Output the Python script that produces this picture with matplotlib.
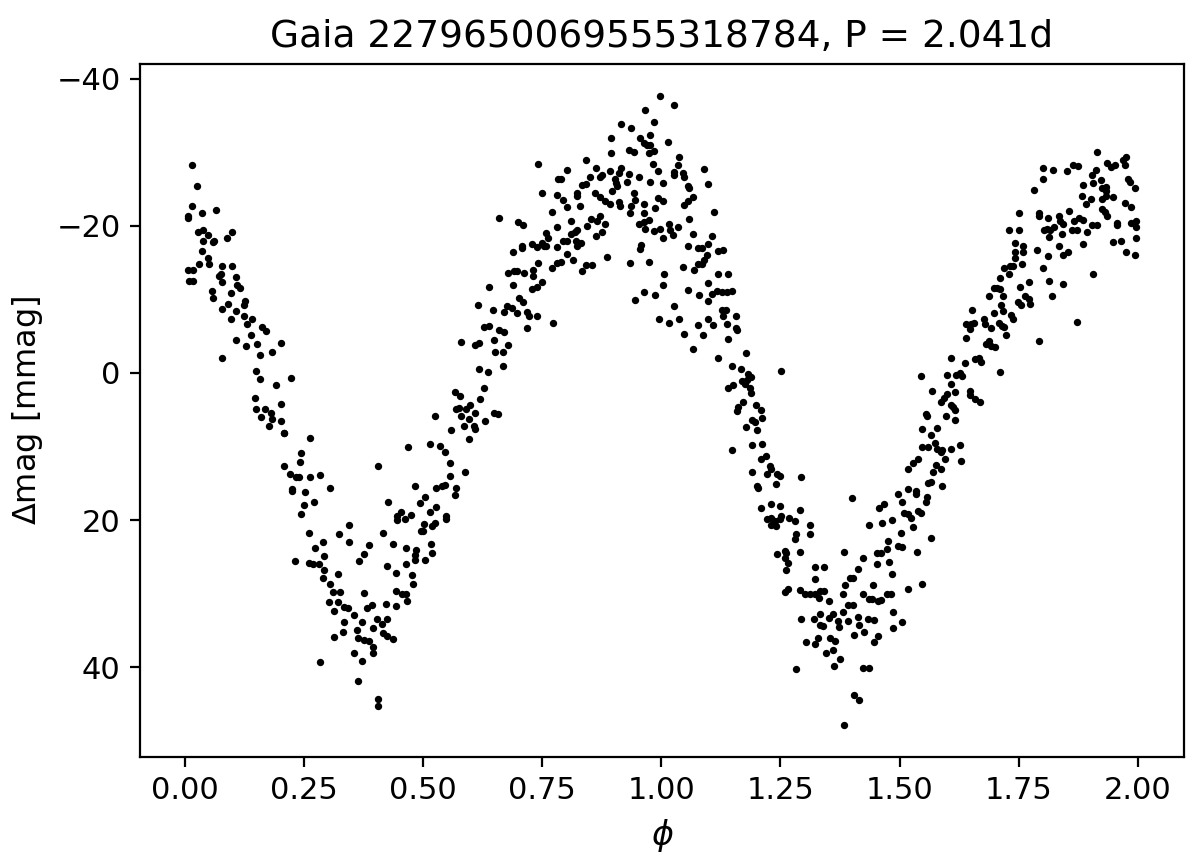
import numpy as np
import matplotlib
matplotlib.use("Agg")
import matplotlib.pyplot as plt

# phase-folded light curve, (phi, delta mag in mmag)
seg_00_25 = [
    (0.015, -28.2), (0.026, -25.4), (0.015, -22.7), (0.006, -21.4), (0.007, -21.0), (0.037, -21.7),
    (0.066, -22.2), (0.028, -19.1), (0.038, -19.5), (0.049, -18.7), (0.038, -18.0), (0.059, -17.8),
    (0.062, -18.0), (0.088, -18.3), (0.098, -19.2), (0.036, -16.6), (0.048, -15.6), (0.029, -14.8),
    (0.050, -14.8), (0.007, -14.0), (0.017, -14.0), (0.008, -12.5), (0.017, -12.5), (0.077, -14.6),
    (0.099, -14.6), (0.071, -13.2), (0.075, -13.4), (0.108, -13.0), (0.077, -12.3), (0.109, -11.9),
    (0.116, -11.6), (0.058, -11.2), (0.059, -10.2), (0.097, -10.9), (0.090, -9.4), (0.079, -8.7),
    (0.127, -9.8), (0.124, -9.2), (0.108, -8.4), (0.097, -7.3), (0.124, -7.8), (0.131, -6.6),
    (0.141, -7.4), (0.162, -6.3), (0.171, -5.7), (0.138, -5.1), (0.108, -4.5), (0.128, -3.7),
    (0.151, -3.9), (0.202, -4.1), (0.182, -2.8), (0.158, -2.4), (0.078, -2.1), (0.150, -0.2),
    (0.158, 0.8), (0.223, 0.7), (0.191, 1.7), (0.148, 3.4), (0.201, 4.2), (0.149, 4.9),
    (0.168, 4.9), (0.181, 5.4), (0.159, 6.0), (0.183, 6.3), (0.201, 6.5), (0.176, 7.2),
    (0.208, 8.1), (0.208, 8.2), (0.208, 12.6),
]

seg_25_50 = [
    (0.263, 8.8), (0.243, 10.9), (0.241, 12.1), (0.220, 13.8), (0.233, 14.2), (0.240, 14.2),
    (0.262, 14.1), (0.284, 13.9), (0.224, 15.8), (0.224, 16.1), (0.252, 16.2), (0.304, 15.7),
    (0.250, 17.9), (0.272, 17.6), (0.243, 19.2), (0.260, 21.8), (0.231, 25.5), (0.273, 23.8),
    (0.291, 23.0), (0.292, 24.9), (0.260, 25.8), (0.269, 25.9), (0.281, 26.0), (0.293, 26.8),
    (0.291, 27.9), (0.304, 28.7), (0.311, 29.8), (0.325, 29.8), (0.322, 27.3), (0.303, 31.1),
    (0.322, 31.2), (0.313, 32.3), (0.334, 31.8), (0.343, 31.9), (0.333, 33.9), (0.332, 35.2),
    (0.313, 35.9), (0.354, 32.9), (0.283, 39.3), (0.324, 21.9), (0.345, 20.6), (0.344, 23.0),
    (0.386, 23.4), (0.376, 24.6), (0.365, 25.5), (0.375, 29.9), (0.383, 32.0), (0.392, 31.6),
    (0.372, 33.8), (0.362, 35.0), (0.364, 36.0), (0.376, 36.3), (0.386, 36.5), (0.394, 34.7),
    (0.404, 33.5), (0.413, 34.1), (0.395, 37.2), (0.395, 38.1), (0.355, 38.1), (0.372, 39.1),
    (0.364, 41.9), (0.406, 44.3), (0.406, 45.3), (0.406, 12.7), (0.416, 21.7), (0.426, 17.6),
    (0.425, 26.2), (0.436, 23.3), (0.443, 27.2), (0.444, 29.7), (0.456, 30.1), (0.465, 30.1),
    (0.467, 31.0), (0.443, 31.7), (0.423, 31.4), (0.425, 33.4), (0.416, 35.4), (0.425, 35.7),
    (0.436, 36.1), (0.446, 20.0), (0.446, 19.5), (0.454, 18.9), (0.463, 19.9), (0.474, 19.3),
    (0.468, 10.1), (0.484, 15.3), (0.494, 17.7), (0.504, 16.9), (0.502, 20.5), (0.495, 21.5),
    (0.499, 21.5), (0.465, 23.8), (0.485, 24.1), (0.484, 24.8), (0.484, 25.4), (0.503, 25.4),
    (0.465, 25.9), (0.477, 27.4), (0.478, 28.7),
]

seg_50_75 = [
    (0.515, 18.9), (0.518, 20.8), (0.526, 20.4), (0.528, 18.2), (0.516, 23.2), (0.518, 24.5),
    (0.548, 19.5), (0.548, 19.9), (0.527, 15.6), (0.539, 15.3), (0.546, 15.2), (0.569, 15.6),
    (0.566, 16.6), (0.556, 14.0), (0.587, 13.5), (0.556, 12.2), (0.546, 10.8), (0.515, 9.6),
    (0.535, 9.9), (0.525, 5.9), (0.558, 7.8), (0.597, 9.0), (0.566, 2.6), (0.578, 3.1),
    (0.569, 4.9), (0.576, 4.7), (0.579, 5.8), (0.590, 4.9), (0.599, 4.4), (0.596, 6.3),
    (0.586, 7.2), (0.607, 7.2), (0.610, 7.6), (0.609, 5.4), (0.620, 3.5), (0.628, 2.1),
    (0.630, 6.5), (0.648, 5.4), (0.658, 5.6), (0.618, -0.6), (0.637, -0.1), (0.667, -0.9),
    (0.579, -4.2), (0.609, -3.8), (0.618, -4.1), (0.627, -6.2), (0.639, -6.4), (0.648, -4.5),
    (0.651, -2.8), (0.667, -2.8), (0.679, -3.8), (0.659, -5.9), (0.669, -5.5), (0.616, -9.3),
    (0.646, -8.6), (0.639, -11.7), (0.670, -8.3), (0.677, -9.1), (0.687, -8.8), (0.698, -8.2),
    (0.719, -6.1), (0.719, -8.3), (0.723, -7.7), (0.740, -7.8), (0.701, -10.2), (0.709, -9.7),
    (0.689, -12.0), (0.679, -13.6), (0.690, -13.9), (0.697, -13.8), (0.711, -13.6), (0.688, -16.5),
    (0.708, -17.0), (0.708, -17.2), (0.728, -17.5), (0.740, -17.1), (0.749, -17.7), (0.753, -17.2),
    (0.731, -14.0), (0.731, -13.2), (0.742, -15.0), (0.728, -11.4), (0.739, -11.7), (0.749, -12.4),
    (0.660, -21.0), (0.700, -20.5), (0.710, -20.1), (0.750, -24.4), (0.741, -28.4),
]

seg_75_100 = [
    (0.759, -19.0), (0.762, -18.4), (0.759, -17.3), (0.770, -21.9), (0.781, -17.1), (0.771, -14.3),
    (0.781, -15.0), (0.790, -15.1), (0.802, -16.2), (0.814, -15.3), (0.793, -17.9), (0.802, -17.9),
    (0.781, -19.9), (0.810, -20.7), (0.811, -18.9), (0.818, -19.2), (0.823, -19.4), (0.820, -18.0),
    (0.823, -17.2), (0.832, -17.6), (0.842, -14.7), (0.854, -14.7), (0.834, -13.9), (0.885, -15.7),
    (0.862, -18.6), (0.875, -19.2), (0.882, -20.3), (0.845, -20.0), (0.852, -20.9), (0.865, -20.6),
    (0.872, -21.3), (0.782, -24.2), (0.793, -23.5), (0.803, -22.6), (0.823, -24.5), (0.823, -24.0),
    (0.830, -22.7), (0.784, -26.3), (0.789, -26.4), (0.802, -27.6), (0.833, -25.6), (0.842, -25.7),
    (0.851, -26.7), (0.842, -29.0), (0.862, -27.8), (0.872, -26.6), (0.875, -26.9), (0.861, -24.5),
    (0.872, -23.9), (0.881, -23.4), (0.892, -23.0), (0.892, -27.4), (0.894, -29.9), (0.894, -31.9),
    (0.915, -33.9), (0.896, -24.7), (0.902, -26.3), (0.904, -25.8), (0.906, -25.4), (0.912, -27.2),
    (0.916, -27.9), (0.927, -26.0), (0.912, -23.3), (0.913, -22.7), (0.933, -27.0), (0.932, -30.3),
    (0.943, -30.0), (0.936, -33.3), (0.935, -21.7), (0.937, -22.7), (0.943, -24.5), (0.944, -23.5),
    (0.953, -26.7), (0.955, -32.0), (0.963, -31.3), (0.970, -31.0), (0.976, -31.0), (0.965, -35.7),
    (0.976, -32.3), (0.984, -34.1), (0.997, -37.7), (0.974, -29.9), (0.985, -30.2), (0.983, -28.4),
    (0.994, -27.5), (0.976, -25.9), (1.004, -25.8), (0.993, -23.8), (1.004, -23.4), (0.964, -22.9),
    (0.963, -21.7), (0.987, -22.4), (0.954, -20.2), (0.963, -20.5), (0.974, -20.8), (0.966, -19.6),
    (0.985, -19.3), (0.997, -19.6), (1.004, -18.3), (0.957, -17.4), (0.956, -16.9), (0.935, -15.0),
    (0.975, -15.1), (1.005, -13.4), (1.004, -12.0), (0.945, -9.9), (0.964, -11.0), (0.986, -10.6),
    (0.996, -7.3), (0.773, -6.8),
]

seg_100_125 = [
    (1.027, -36.4), (1.014, -31.4), (1.038, -29.3), (1.034, -28.3), (1.026, -27.3), (1.026, -26.9),
    (1.046, -27.2), (1.047, -26.7), (1.089, -27.7), (1.056, -25.4), (1.058, -25.2), (1.098, -25.7),
    (1.067, -23.9), (1.055, -23.4), (1.047, -22.8), (1.110, -21.9), (1.059, -20.9), (1.016, -20.3),
    (1.019, -19.5), (1.025, -18.8), (1.036, -19.9), (1.066, -18.9), (1.107, -18.6), (1.056, -17.2),
    (1.076, -17.0), (1.086, -17.0), (1.097, -17.5), (1.119, -16.6), (1.130, -16.7), (1.095, -16.0),
    (1.089, -15.4), (1.077, -14.8), (1.086, -14.8), (1.046, -14.4), (1.069, -14.0), (1.118, -13.5),
    (1.139, -13.4), (1.099, -12.2), (1.057, -11.3), (1.080, -10.6), (1.097, -9.8), (1.106, -10.8),
    (1.117, -11.1), (1.128, -11.0), (1.137, -11.0), (1.148, -11.1), (1.026, -9.1), (1.128, -8.5),
    (1.136, -8.5), (1.129, -7.7), (1.156, -7.8), (1.037, -7.4), (1.016, -6.8), (1.098, -7.3),
    (1.077, -6.5), (1.109, -6.5), (1.137, -6.6), (1.157, -6.1), (1.158, -5.8), (1.047, -5.3),
    (1.087, -5.2), (1.140, -4.6), (1.067, -3.2), (1.178, -2.7), (1.119, -2.0), (1.148, -1.0),
    (1.167, -0.5), (1.181, 0.2), (1.188, 0.6), (1.179, 0.9), (1.252, -0.2), (1.140, 2.0),
    (1.151, 1.7), (1.170, 1.1), (1.175, 1.5), (1.186, 2.0),
    (1.188, 2.7), (1.171, 3.9), (1.160, 4.6), (1.158, 5.2), (1.198, 4.4), (1.210, 5.1),
    (1.211, 6.1), (1.191, 6.4), (1.196, 6.7), (1.177, 7.3), (1.200, 7.7), (1.149, 10.5),
    (1.191, 9.8), (1.211, 9.7), (1.219, 11.3), (1.210, 11.7), (1.229, 12.6), (1.230, 13.1),
    (1.190, 13.5), (1.222, 13.7), (1.242, 13.7), (1.250, 14.0), (1.240, 15.1), (1.200, 15.4),
    (1.202, 15.6), (1.210, 18.3), (1.231, 17.8), (1.249, 18.1), (1.221, 19.9), (1.231, 19.7),
    (1.238, 20.1), (1.249, 19.8), (1.252, 19.4), (1.231, 20.6), (1.241, 20.8), (1.268, 19.7),
    (1.242, 24.6), (1.259, 24.2), (1.262, 24.5), (1.260, 25.2), (1.266, 25.8), (1.262, 26.8),
    (1.260, 29.8), (1.266, 29.4),
]

seg_125_150 = [
    (1.293, 14.2), (1.280, 20.1), (1.291, 18.6), (1.282, 21.9), (1.280, 22.6), (1.290, 24.3),
    (1.312, 20.6), (1.313, 21.9), (1.291, 29.5), (1.301, 30.1), (1.312, 30.1), (1.322, 30.0),
    (1.333, 29.7), (1.342, 29.7), (1.322, 26.4), (1.342, 26.4), (1.322, 28.0), (1.331, 30.6),
    (1.352, 31.0), (1.383, 24.4), (1.401, 17.0), (1.293, 33.5), (1.320, 33.5), (1.334, 32.7),
    (1.333, 34.3), (1.340, 34.4), (1.352, 33.3), (1.361, 32.8), (1.371, 33.7), (1.373, 34.5),
    (1.381, 32.5), (1.392, 33.7), (1.392, 31.5), (1.402, 31.5), (1.381, 30.1), (1.385, 28.8),
    (1.396, 27.9), (1.403, 27.9), (1.413, 26.6), (1.423, 25.1), (1.413, 33.2), (1.414, 34.2),
    (1.405, 35.6), (1.423, 30.0), (1.435, 30.7), (1.442, 30.7), (1.444, 28.8), (1.434, 33.4),
    (1.426, 35.2), (1.446, 33.6), (1.454, 31.0), (1.462, 30.9), (1.473, 30.0), (1.483, 30.0),
    (1.446, 36.6), (1.455, 35.8), (1.303, 36.6), (1.322, 36.9), (1.329, 36.0), (1.345, 38.1),
    (1.355, 36.0), (1.364, 36.5), (1.361, 37.7), (1.363, 39.8), (1.374, 38.9), (1.282, 40.2),
    (1.424, 40.1), (1.435, 40.1), (1.405, 43.8), (1.415, 44.4), (1.384, 47.9), (1.487, 32.5),
    (1.487, 34.6), (1.505, 33.9), (1.435, 20.7), (1.453, 24.5), (1.462, 24.5), (1.453, 25.9),
    (1.474, 23.9), (1.476, 22.8), (1.464, 20.4), (1.456, 18.4), (1.467, 17.8), (1.485, 20.0),
    (1.478, 25.7), (1.485, 27.3), (1.497, 16.5), (1.505, 17.5), (1.496, 23.5), (1.505, 23.6),
    (1.504, 21.8), (1.509, 19.1),
]

seg_150_175 = [
    (1.518, 29.4), (1.547, 28.7), (1.536, 24.4), (1.567, 22.4), (1.528, 21.0), (1.517, 19.2),
    (1.525, 19.7), (1.539, 18.7), (1.546, 19.0), (1.517, 15.8), (1.535, 16.0), (1.535, 16.4),
    (1.557, 16.8), (1.555, 17.5), (1.560, 14.9), (1.566, 14.8), (1.518, 13.1), (1.528, 12.3),
    (1.538, 11.7), (1.570, 13.4), (1.577, 12.5), (1.587, 13.1), (1.588, 15.3), (1.547, 10.0),
    (1.559, 10.0), (1.575, 9.5), (1.578, 10.3), (1.587, 10.7), (1.589, 10.5), (1.596, 11.7),
    (1.608, 10.3), (1.627, 9.8), (1.628, 12.0), (1.566, 8.4), (1.547, 7.6), (1.579, 7.5),
    (1.556, 5.6), (1.557, 5.9), (1.598, 5.9), (1.617, 6.4), (1.617, 5.1), (1.608, 4.4),
    (1.612, 4.6), (1.587, 3.9), (1.594, 3.4), (1.599, 2.8), (1.569, 2.5), (1.617, 2.6),
    (1.608, 1.5), (1.599, 0.3), (1.619, 0.3), (1.626, 0.0), (1.630, 0.4), (1.545, 0.4),
    (1.648, 2.5), (1.648, 3.0), (1.658, 3.6), (1.668, 4.0), (1.638, -1.4), (1.607, -2.0),
    (1.659, -1.9), (1.666, -2.1), (1.671, -1.5), (1.711, -0.1), (1.640, -4.7), (1.640, -6.6),
    (1.650, -6.6), (1.657, -6.8), (1.648, -6.0), (1.651, -8.5), (1.678, -7.3), (1.679, -6.7),
    (1.692, -6.1), (1.682, -3.9), (1.687, -4.3), (1.691, -3.7), (1.700, -3.5), (1.708, -6.8),
    (1.714, -6.4), (1.720, -6.3), (1.723, -5.2), (1.698, -8.1), (1.718, -8.4), (1.734, -7.9),
    (1.739, -7.3), (1.688, -10.5), (1.713, -9.3), (1.718, -10.4), (1.698, -11.6), (1.705, -11.5),
    (1.711, -11.4), (1.711, -12.9), (1.720, -14.2), (1.729, -13.5), (1.731, -14.5), (1.738, -14.6),
    (1.752, -11.7), (1.749, -9.7), (1.754, -9.3), (1.742, -17.6), (1.742, -16.5), (1.742, -15.6),
    (1.757, -14.8), (1.760, -17.3), (1.760, -16.5),
]

seg_175_200 = [
    (1.915, -30.0), (1.976, -29.4), (1.968, -29.0), (1.974, -28.2), (1.936, -28.6), (1.944, -28.0),
    (1.952, -28.3), (1.913, -27.6), (1.903, -26.9), (1.863, -28.2), (1.874, -28.1), (1.852, -27.4),
    (1.801, -27.9), (1.822, -27.6), (1.802, -26.3), (1.783, -24.9), (1.884, -25.6), (1.905, -25.8),
    (1.922, -26.2), (1.924, -25.1), (1.933, -25.3), (1.934, -24.7), (1.979, -26.3), (1.983, -26.0),
    (1.994, -25.2), (1.882, -24.1), (1.902, -23.6), (1.892, -22.9), (1.924, -23.7), (1.933, -24.0),
    (1.947, -23.9), (1.973, -23.1), (1.986, -22.5), (1.924, -22.3), (1.932, -21.9), (1.936, -21.3),
    (1.855, -22.0), (1.793, -21.7), (1.792, -21.3), (1.811, -21.0), (1.834, -21.3), (1.836, -20.7),
    (1.843, -20.2), (1.866, -20.6), (1.876, -21.0), (1.884, -20.8), (1.824, -19.9), (1.803, -19.5),
    (1.809, -19.6), (1.815, -19.5), (1.841, -18.9), (1.813, -18.5), (1.861, -19.5), (1.872, -19.5),
    (1.893, -19.2), (1.903, -20.1), (1.914, -20.1), (1.956, -20.4), (1.957, -20.1), (1.985, -20.4),
    (1.997, -20.7), (1.996, -19.8), (1.997, -18.4), (1.730, -19.4), (1.750, -19.5), (1.751, -21.7),
    (1.884, -17.5), (1.835, -17.2), (1.842, -16.0), (1.854, -16.5), (1.811, -15.9), (1.789, -16.7),
    (1.947, -17.8), (1.965, -18.0), (1.976, -16.5), (1.994, -16.0), (1.802, -14.2), (1.814, -12.5),
    (1.843, -12.1), (1.820, -10.5), (1.905, -13.4), (1.771, -12.3), (1.764, -10.4), (1.771, -10.1),
    (1.773, -9.4), (1.873, -6.9), (1.793, -4.3),
]

segments = [seg_00_25, seg_25_50, seg_50_75, seg_75_100,
            seg_100_125, seg_125_150, seg_150_175, seg_175_200]
pts = np.array([p for seg in segments for p in seg])
phase = pts[:, 0]
dmag = pts[:, 1]

fig = plt.figure(figsize=(6.0, 4.305), dpi=200)
ax = fig.add_axes([0.1167, 0.1208, 0.87, 0.8049])

ax.scatter(phase, dmag, s=7, c="k", linewidths=0)

ax.set_xlim(-0.094, 2.097)
ax.set_ylim(52.2, -42.0)
ax.set_xticks([0.0, 0.25, 0.5, 0.75, 1.0, 1.25, 1.5, 1.75, 2.0])
ax.tick_params(labelsize=11)

ax.set_xlabel(r"$\phi$", fontsize=12)
ax.set_ylabel(r"$\Delta$mag [mmag]", fontsize=11.5)
ax.set_title("Gaia 2279650069555318784, P = 2.041d", fontsize=13.5)

fig.savefig("out.png", dpi=200)
